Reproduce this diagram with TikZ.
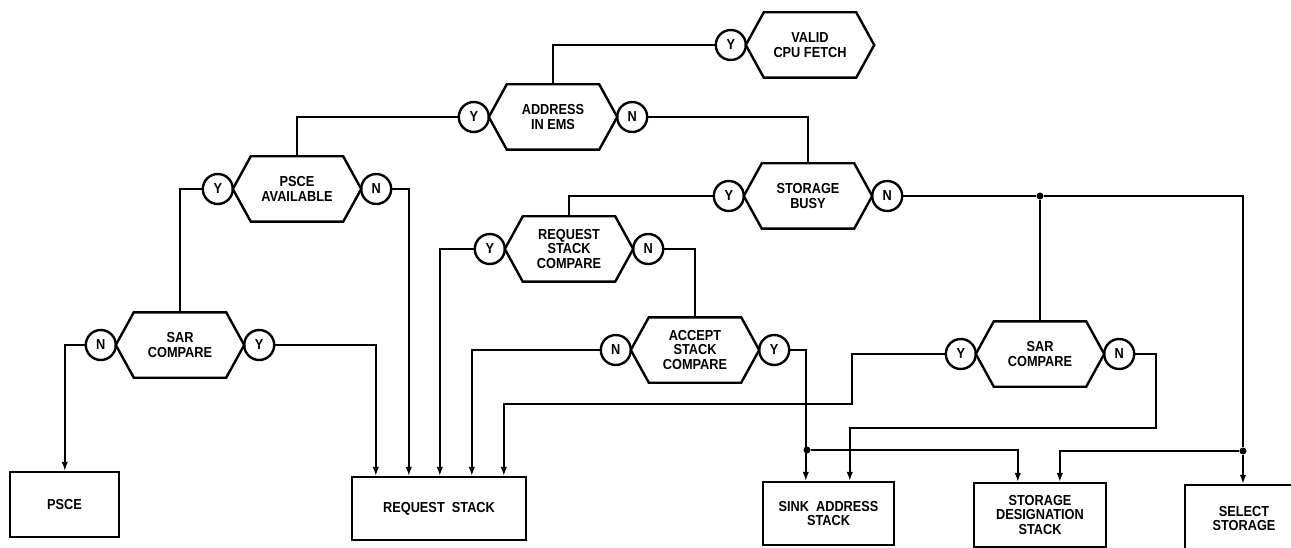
\documentclass[tikz,border=0pt]{standalone}
\usepackage{fontspec}
\setmainfont{Liberation Sans}[FakeStretch=0.88]
\usetikzlibrary{arrows.meta,calc}
\tikzset{
  shapeline/.style={line width=2.4pt},
  conn/.style={line width=1.6pt},
  arr/.style={conn,-{Latex[length=9pt,width=6.5pt]}},
  hexbox/.style={minimum width=128pt, minimum height=65pt, inner sep=0pt, align=center,
    font=\bfseries\fontsize{14.5}{14.5}\selectfont},
  yn/.style={circle, draw, shapeline, minimum size=30pt, inner sep=0pt,
    font=\bfseries\fontsize{14.5}{14.5}\selectfont},
  box/.style={draw, shapeline, inner sep=0pt, align=center,
    font=\bfseries\fontsize{14.5}{14.5}\selectfont},
  junc/.style={circle, fill, inner sep=0pt, minimum size=7pt},
}
\newcommand\hexnode[3]{%
  \node[hexbox] (#1) at (#2) {#3};
  \draw[shapeline, line join=miter] ([xshift=18pt]#1.north west) -- ([xshift=-18pt]#1.north east)
    -- (#1.east) -- ([xshift=-18pt]#1.south east) -- ([xshift=18pt]#1.south west) -- (#1.west) -- cycle;
}
\begin{document}
\begin{tikzpicture}[x=1pt,y=-1pt]
\useasboundingbox (0,0) rectangle (1291,548);
\fill[white] (0,0) rectangle (1291,548);
\clip (0,0) rectangle (1291,548);

% decision hexagons
\hexnode{valid}{810,45}{VALID\\CPU FETCH}
\hexnode{addr}{553,117}{ADDRESS\\IN EMS}
\hexnode{psceav}{297,189}{PSCE\\AVAILABLE}
\hexnode{sbusy}{808,196}{STORAGE\\BUSY}
\hexnode{rsc}{569,249}{REQUEST\\STACK\\COMPARE}
\hexnode{sarL}{180,345}{SAR\\COMPARE}
\hexnode{acc}{695,350}{ACCEPT\\STACK\\COMPARE}
\hexnode{sarR}{1040,354}{SAR\\COMPARE}

% Y / N circles
\node[yn] (vY)  at ($(valid.west)+(-15,0)$) {Y};
\node[yn] (aY)  at ($(addr.west)+(-15,0)$) {Y};
\node[yn] (aN)  at ($(addr.east)+(15,0)$) {N};
\node[yn] (pY)  at ($(psceav.west)+(-15,0)$) {Y};
\node[yn] (pN)  at ($(psceav.east)+(15,0)$) {N};
\node[yn] (sbY) at ($(sbusy.west)+(-15,0)$) {Y};
\node[yn] (sbN) at ($(sbusy.east)+(15,0)$) {N};
\node[yn] (rY)  at ($(rsc.west)+(-15,0)$) {Y};
\node[yn] (rN)  at ($(rsc.east)+(15,0)$) {N};
\node[yn] (slN) at ($(sarL.west)+(-15,0)$) {N};
\node[yn] (slY) at ($(sarL.east)+(15,0)$) {Y};
\node[yn] (acN) at ($(acc.west)+(-15,0)$) {N};
\node[yn] (acY) at ($(acc.east)+(15,0)$) {Y};
\node[yn] (srY) at ($(sarR.west)+(-15,0)$) {Y};
\node[yn] (srN) at ($(sarR.east)+(15,0)$) {N};

% boxes
\node[box, minimum width=109pt, minimum height=65pt] (psce) at (64.5,504.5) {PSCE};
\node[box, minimum width=174pt, minimum height=63pt] (req) at (439,508.5) {REQUEST\ \ STACK};
\node[box, minimum width=131pt, minimum height=63pt] (sink) at (828.5,513.5) {SINK\ \ ADDRESS\\STACK};
\node[box, minimum width=132pt, minimum height=64pt] (sdes) at (1040,515) {STORAGE\\DESIGNATION\\STACK};
\node[box, minimum width=118pt, minimum height=67pt] (sel) at (1244,518.5) {SELECT\\STORAGE};

% junctions and bend points
\node[junc] (j1) at (807,450) {};
\node[junc] (j2) at (sarR.north |- sbN) {};
\node[junc] (j3) at (1243,451) {};
\coordinate (k1) at (852,404);
\coordinate (k2) at (1156,428);

% connectors between decisions
\draw[conn] (vY.west) -| (addr.north);
\draw[conn] (aY.west) -| (psceav.north);
\draw[conn] (aN.east) -| (sbusy.north);
\draw[conn] (pY.west) -| (sarL.north);
\draw[conn] (sbY.west) -| (rsc.north);
\draw[conn] (rN.east) -| (acc.north);
\draw[conn] (sbN.east) -- (j2) -- (j3 |- sbN) -- (j3);
\draw[conn] (j2) -- (sarR.north);

% connectors into boxes
\draw[arr] (slN.west) -| ($(psce.north west)+(56,0)$);
\draw[arr] (slY.east) -| ($(req.north west)+(25,0)$);
\draw[arr] (pN.east) -| ($(req.north west)+(58,0)$);
\draw[arr] (rY.west) -| ($(req.north west)+(89,0)$);
\draw[arr] (acN.west) -| ($(req.north west)+(121,0)$);
\draw[arr] (srY.west) -| (k1) -| ($(req.north west)+(153,0)$);
\draw[arr] (acY.east) -| ($(sink.north west)+(44,0)$);
\draw[arr] (srN.east) -| (k2) -| ($(sink.north west)+(88,0)$);
\draw[arr] (j1) -| ($(sdes.north west)+(45,0)$);
\draw[arr] (j3) -| ($(sdes.north west)+(87,0)$);
\draw[arr] (j3) -- (j3 |- sel.north);
\end{tikzpicture}
\end{document}
